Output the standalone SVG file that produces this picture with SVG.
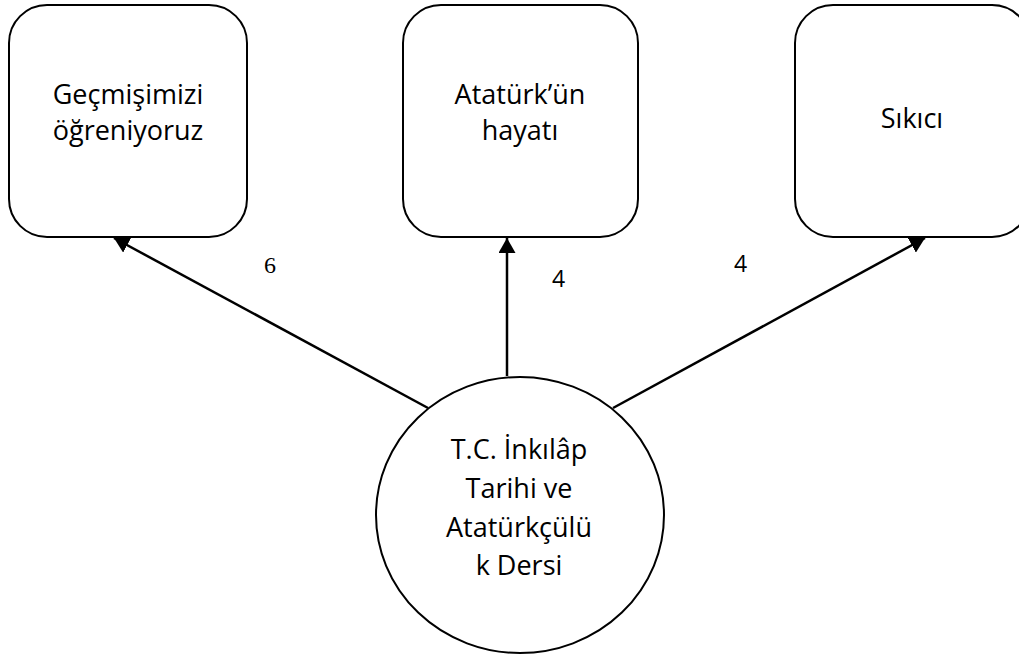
<svg xmlns="http://www.w3.org/2000/svg" width="1019" height="659" viewBox="0 0 1019 659">
  <style>
    .box { fill: #fff; stroke: #000; stroke-width: 2; }
    .node-text { font-family: "Open Sans", "Liberation Sans", sans-serif; font-size: 27px; fill: #000; text-anchor: middle; }
    .conn { stroke: #000; stroke-width: 2.5; fill: none; marker-end: url(#arrow); }
    .num-serif { font-family: "Liberation Serif", serif; font-size: 24px; fill: #000; }
    .num-sans { font-family: "Open Sans", "Liberation Sans", sans-serif; font-size: 23px; fill: #000; }
  </style>
  <defs>
    <marker id="arrow" markerUnits="userSpaceOnUse" markerWidth="16" markerHeight="17" refX="15" refY="8.5" orient="auto">
      <path d="M0,0 L15,8.5 L0,17 Z" fill="#000"/>
    </marker>
  </defs>
  <rect width="1019" height="659" fill="#fff"/>

  <g id="connectors">
    <line class="conn" x1="428" y1="408" x2="114" y2="238"/>
    <line class="conn" x1="507" y1="376" x2="507" y2="238"/>
    <line class="conn" x1="613" y1="408" x2="925" y2="238"/>
    <text class="num-serif" x="264" y="273">6</text>
    <text class="num-sans" x="552" y="287">4</text>
    <text class="num-sans" x="734" y="272">4</text>
  </g>

  <g id="node-gecmis">
    <rect class="box" x="9" y="5" width="238" height="232" rx="38" ry="38"/>
    <text class="node-text" x="128" y="104">Geçmişimizi</text>
    <text class="node-text" x="128" y="140">öğreniyoruz</text>
  </g>

  <g id="node-ataturk">
    <rect class="box" x="403" y="5" width="235" height="232" rx="38" ry="38"/>
    <text class="node-text" x="520" y="104">Atatürk’ün</text>
    <text class="node-text" x="520" y="140">hayatı</text>
  </g>

  <g id="node-sikici">
    <rect class="box" x="795" y="5" width="235" height="232" rx="38" ry="38"/>
    <text class="node-text" x="912" y="128">Sıkıcı</text>
  </g>

  <g id="node-ders">
    <ellipse class="box" cx="520" cy="515" rx="144" ry="138"/>
    <text class="node-text" x="519" y="459">T.C. İnkılâp</text>
    <text class="node-text" x="519" y="498">Tarihi ve</text>
    <text class="node-text" x="519" y="537">Atatürkçülü</text>
    <text class="node-text" x="519" y="575">k Dersi</text>
  </g>
</svg>
